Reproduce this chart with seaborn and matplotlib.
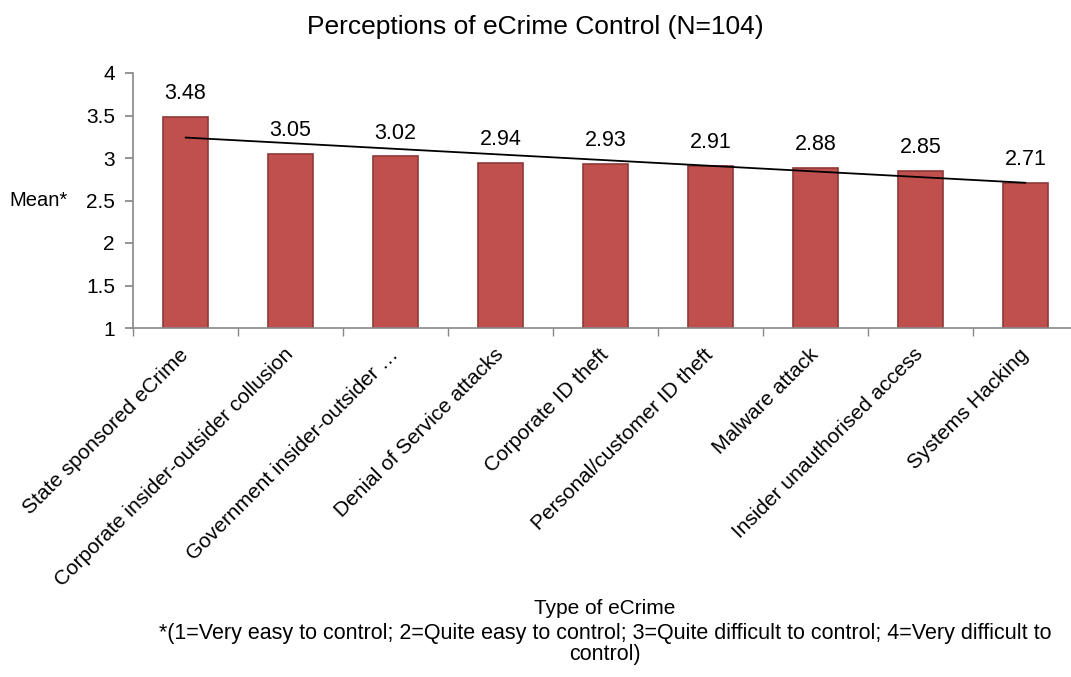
import matplotlib
matplotlib.use("Agg")
import matplotlib.pyplot as plt
import numpy as np
import pandas as pd
import seaborn as sns

categories = ["State sponsored eCrime", "Corporate insider-outsider collusion",
              "Government insider-outsider \u2026", "Denial of Service attacks",
              "Corporate ID theft", "Personal/customer ID theft", "Malware attack",
              "Insider unauthorised access", "Systems Hacking"]
means = [3.48, 3.05, 3.02, 2.94, 2.93, 2.91, 2.88, 2.85, 2.71]
y_ticks = [1, 1.5, 2, 2.5, 3, 3.5, 4]

sns.set_theme(style="white")
plt.rcParams['font.family'] = ['Liberation Sans', 'DejaVu Sans']
plt.rcParams['text.color'] = 'black'

df = pd.DataFrame({"Type of eCrime": categories, "Mean": means})

fig = plt.figure(figsize=(10.71, 6.77), dpi=100)
ax = fig.add_axes([133 / 1071, 1 - 328 / 677, 945 / 1071, 255 / 677])

sns.barplot(data=df, x="Type of eCrime", y="Mean", color="#C0504D", saturation=1,
            width=0.42, edgecolor="#8E3A38", linewidth=1.2, ax=ax)

# linear trend line like excel
xs = np.arange(len(means))
k, b = np.polyfit(xs, means, 1)
ax.plot(xs, k * xs + b, color="black", lw=1.3)

for i, v in enumerate(means):
    ax.text(i, v + 0.15, f"{v:.2f}", ha="center", va="bottom", fontsize=15.5, color="black")

ax.set_ylim(1, 4)
ax.set_xlim(-0.5, len(categories) - 0.5)
ax.set_yticks(y_ticks)
ax.set_yticklabels([f"{t:g}" for t in y_ticks], fontsize=15, color="black")
ax.set_xticks(xs)
ax.set_xticklabels(categories, rotation=45, ha="right", va="center",
                   rotation_mode="anchor", fontsize=15, color="black")
ax.set_xticks(np.arange(-0.5, len(categories)), minor=True)
ax.tick_params(axis="x", which="major", length=0, pad=17)
ax.tick_params(axis="x", which="minor", length=6, color="#888888", direction="out", bottom=True)
ax.tick_params(axis="y", length=6, color="#888888", direction="out", left=True, pad=7)

sns.despine(ax=ax)
for s in ["left", "bottom"]:
    ax.spines[s].set_color("#888888")
    ax.spines[s].set_linewidth(1.2)

ax.set_xlabel("")
ax.set_ylabel("Mean*", rotation=0, fontsize=14.5, va="center", color="black")
ax.yaxis.set_label_coords(-0.10, 0.5)

fig.text(0.5, 1 - 27 / 677, "Perceptions of eCrime Control (N=104)", ha="center", va="center", fontsize=19)
fig.text(605 / 1071, 1 - 609 / 677, "Type of eCrime", ha="center", va="center", fontsize=15)
fig.text(605 / 1071, 1 - 644 / 677,
         "*(1=Very easy to control; 2=Quite easy to control; 3=Quite difficult to control; 4=Very difficult to\ncontrol)",
         ha="center", va="center", fontsize=15.5, linespacing=1.05)

fig.savefig("out.png", dpi=100)
